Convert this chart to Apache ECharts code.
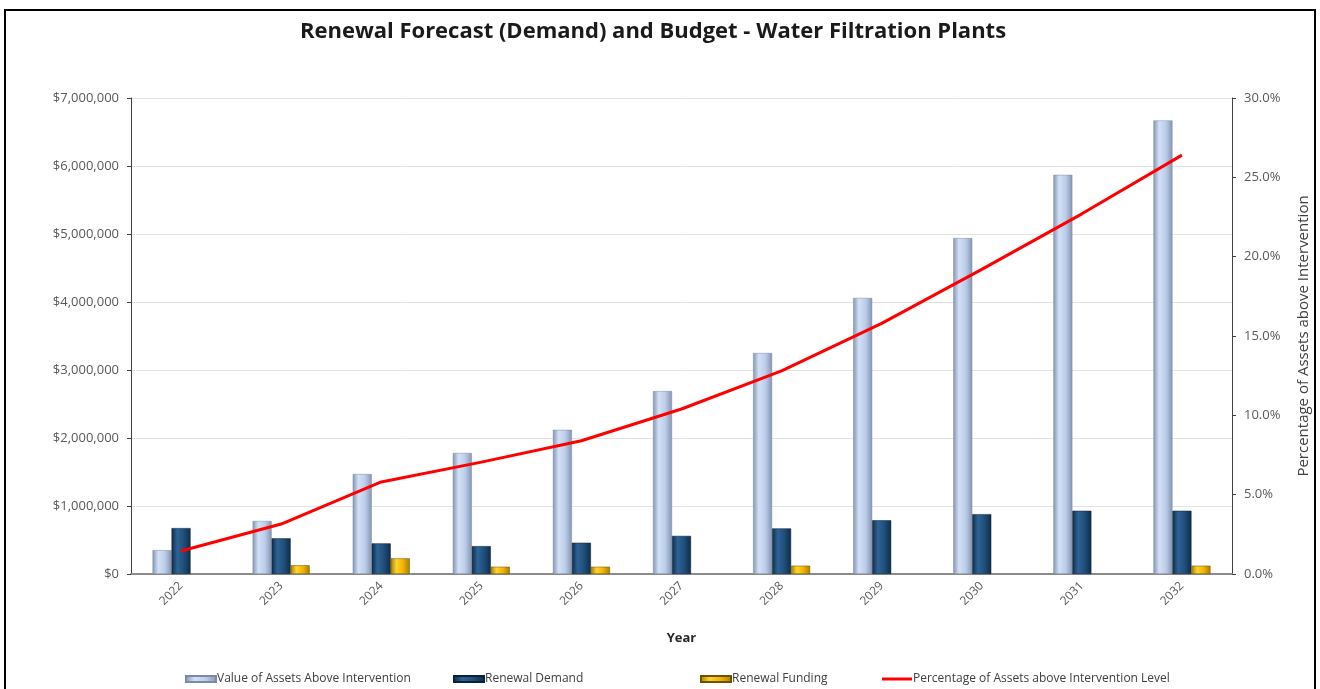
<!DOCTYPE html>
<html>
<head>
<meta charset="utf-8">
<script src="https://cdn.jsdelivr.net/npm/echarts@6/dist/echarts.min.js"></script>
<style>
  html, body { margin: 0; padding: 0; background: #fff; }
  #chart { width: 1320px; height: 689px; }
  .frame {
    position: absolute; left: 4px; top: 9px; width: 1312px; height: 700px;
    border: 2px solid #000; pointer-events: none; box-sizing: border-box;
  }
</style>
</head>
<body>
<div id="chart"></div>
<div class="frame"></div>
<script>
// 数据（null = 当年没有柱）
const years = ['2022', '2023', '2024', '2025', '2026', '2027', '2028', '2029', '2030', '2031', '2032']
const assetsAbove = [350000, 780000, 1470000, 1780000, 2120000, 2690000, 3250000, 4060000, 4940000, 5870000, 6670000]
const renewalDemand = [675000, 525000, 450000, 410000, 460000, 560000, 670000, 790000, 880000, 930000, 930000]
const renewalFunding = [null, 128000, 230000, 107000, 107000, null, 122000, null, null, null, 122000]
const pctAbove = [1.45, 3.15, 5.8, 7.05, 8.4, 10.4, 12.8, 15.8, 19.2, 22.7, 26.4]

const seriesNames = [
  'Value of Assets Above Intervention',
  'Renewal Demand',
  'Renewal Funding',
  'Percentage of Assets above Intervention Level'
]

const myChart = echarts.init(document.getElementById('chart'))

// 横向渐变，模拟圆柱效果
const barGrad = (edge, mid, light) => ({
  type: 'linear', x: 0, y: 0, x2: 1, y2: 0,
  colorStops: [
    { offset: 0, color: edge },
    { offset: 0.3, color: light },
    { offset: 0.65, color: mid },
    { offset: 1, color: edge }
  ]
})

const labelFont = { color: '#595959', fontSize: 13, fontFamily: 'Open Sans' }

// 图例逐个定位，和原图对齐
const legendLefts = [185, 453, 700, 882]
const legends = seriesNames.map((name, i) => ({
  left: legendLefts[i],
  bottom: 4,
  padding: 0,
  itemWidth: 30,
  itemHeight: i === 3 ? 3 : 6,
  itemGap: 0,
  textStyle: { color: '#404040', fontSize: 12, fontFamily: 'Open Sans', padding: [0, 0, 0, -4] },
  data: [{ name, icon: 'rect' }]
}))

const option = {
  backgroundColor: '#fff',
  animation: false,
  title: {
    text: 'Renewal Forecast (Demand) and Budget - Water Filtration Plants',
    left: 648,
    textAlign: 'center',
    top: 16,
    textStyle: { fontFamily: 'Open Sans', fontWeight: 'bold', fontSize: 22, color: '#1a1a1a' }
  },
  legend: legends,
  grid: { left: 131, right: 88, top: 98, bottom: 115 },
  xAxis: {
    type: 'category',
    data: years,
    name: 'Year',
    nameLocation: 'middle',
    nameGap: 58,
    nameTextStyle: { fontWeight: 'bold', fontSize: 13, color: '#262626', fontFamily: 'Open Sans' },
    axisLine: { lineStyle: { color: '#8c8c8c', width: 2 } },
    axisTick: { show: false },
    axisLabel: { ...labelFont, fontSize: 12, rotate: 45, margin: 10 }
  },
  yAxis: [
    {
      type: 'value',
      min: 0, max: 7000000, interval: 1000000,
      axisLine: { show: true, lineStyle: { color: '#404040' } },
      axisTick: { show: true, length: 4, lineStyle: { color: '#404040' } },
      splitLine: { lineStyle: { color: '#e3e3e3' } },
      axisLabel: { ...labelFont, margin: 12, formatter: v => '$' + v.toLocaleString('en-US') }
    },
    {
      type: 'value',
      min: 0, max: 30, interval: 5,
      name: 'Percentage of Assets above Intervention',
      nameLocation: 'middle',
      nameRotate: 90,
      nameGap: 64,
      nameTextStyle: { fontSize: 15, color: '#404040', fontFamily: 'Open Sans' },
      axisLine: { show: true, lineStyle: { color: '#404040' } },
      axisTick: { show: true, length: 4, lineStyle: { color: '#404040' } },
      splitLine: { show: false },
      axisLabel: { ...labelFont, margin: 12, formatter: v => v.toFixed(1) + '%' }
    }
  ],
  series: [
    {
      name: seriesNames[0],
      type: 'bar',
      data: assetsAbove,
      barWidth: 19,
      barGap: '0%',
      color: '#b8cce4',
      itemStyle: {
        color: barGrad('#8494b0', '#bccdea', '#d2e0f6'),
        borderColor: '#7d8aa3', borderWidth: 0.5
      }
    },
    {
      name: seriesNames[1],
      type: 'bar',
      data: renewalDemand,
      barWidth: 19,
      barGap: '0%',
      color: '#1f4e79',
      itemStyle: {
        color: barGrad('#0f2c48', '#1f4e79', '#2d6396'),
        borderColor: '#0d2238', borderWidth: 0.5
      }
    },
    {
      name: seriesNames[2],
      type: 'bar',
      data: renewalFunding,
      barWidth: 19,
      barGap: '0%',
      color: '#ffc000',
      itemStyle: {
        color: barGrad('#a77d00', '#f0b400', '#ffd230'),
        borderColor: '#6e5200', borderWidth: 0.5
      }
    },
    {
      name: seriesNames[3],
      type: 'line',
      yAxisIndex: 1,
      data: pctAbove,
      symbol: 'none',
      color: '#ff0000',
      lineStyle: { color: '#ff0000', width: 3 }
    }
  ]
}

myChart.setOption(option)
window.addEventListener('resize', () => myChart.resize())
</script>
</body>
</html>
